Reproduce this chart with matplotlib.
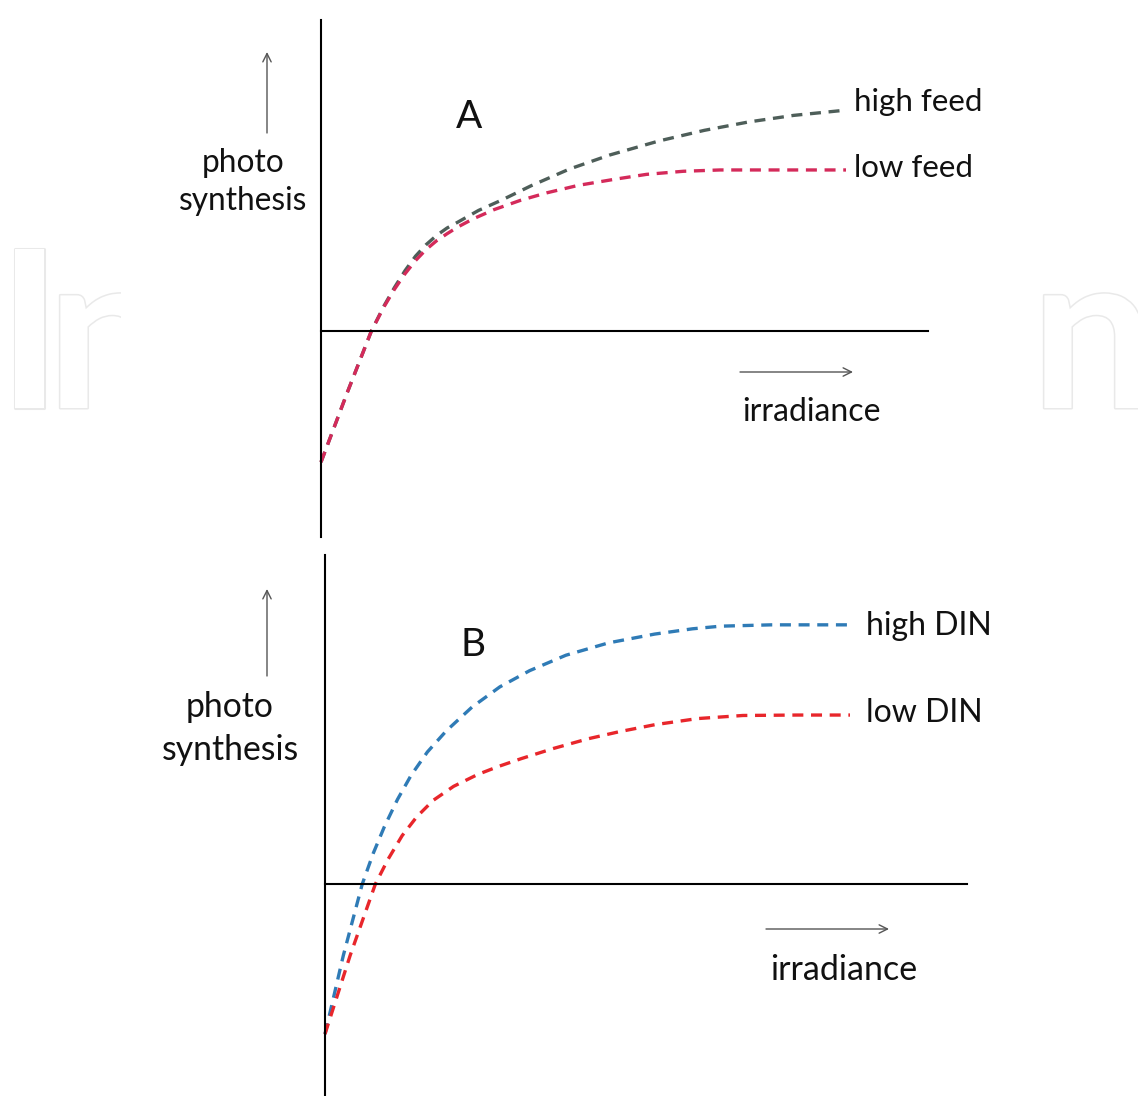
import matplotlib
matplotlib.use('Agg')
import matplotlib.pyplot as plt
import matplotlib.patheffects as pe
from matplotlib.patches import Rectangle, FancyArrowPatch

plt.rcParams['font.family'] = ['Lato', 'DejaVu Sans']

# Panel A: irradiance (arbitrary units) vs photosynthesis (arbitrary units)
feed_x_high = [0, 0.5, 0.96, 1.2, 1.4, 1.6, 1.8, 2.0, 2.2, 2.4, 2.6, 3.0, 3.45, 4.0, 4.73, 5.5, 6.44, 7.3, 8.14, 9.0, 10.0]
feed_y_high = [-2.98, -1.40, 0, 0.57, 0.99, 1.37, 1.70, 1.96, 2.17, 2.34, 2.47, 2.74, 2.98, 3.30, 3.68, 4.00, 4.32, 4.56, 4.75, 4.90, 5.02]
feed_x_low = [0, 0.5, 0.96, 1.2, 1.4, 1.6, 1.8, 2.0, 2.2, 2.4, 2.6, 2.9, 3.3, 3.8, 4.3, 4.9, 5.6, 6.2, 6.9, 7.6, 8.14, 10.0]
feed_y_low = [-2.98, -1.40, 0, 0.55, 0.95, 1.30, 1.60, 1.85, 2.05, 2.21, 2.36, 2.55, 2.76, 2.97, 3.14, 3.31, 3.45, 3.56, 3.63, 3.66, 3.66, 3.66]

# Panel B
din_x_high = [0, 0.35, 0.71, 0.92, 1.13, 1.38, 1.64, 1.95, 2.31, 2.8, 3.33, 3.9, 4.59, 5.4, 6.28, 7.0, 7.54, 8.5, 10.0]
din_y_high = [-3.41, -1.62, 0, 0.70, 1.30, 1.92, 2.47, 3.00, 3.48, 4.02, 4.48, 4.85, 5.20, 5.48, 5.68, 5.80, 5.86, 5.89, 5.89]
din_x_low = [0, 0.48, 0.96, 1.2, 1.47, 1.75, 2.06, 2.45, 2.91, 3.3, 3.74, 4.35, 5.01, 5.6, 6.28, 7.1, 7.96, 9.0, 10.0]
din_y_low = [-3.41, -1.62, 0, 0.56, 1.10, 1.53, 1.90, 2.22, 2.49, 2.67, 2.85, 3.08, 3.30, 3.46, 3.62, 3.76, 3.83, 3.84, 3.84]

W, H = 1138, 1096
XS, YS = 52.5, 44.0   # pixels per data unit

fig = plt.figure(figsize=(W / 100, H / 100), dpi=100)
fig.patch.set_facecolor('white')

# faint watermark letters behind the figure
wm = dict(fontsize=158, fontweight='bold', color='white', va='baseline', ha='left',
          path_effects=[pe.withStroke(linewidth=2.2, foreground='#e9e9e9')], zorder=0)
fig.text(-3 / W, 1 - 408 / H, 'I', **wm)
fig.text(47 / W, 1 - 408 / H, 'n', **wm)
fig.text(1031 / W, 1 - 408 / H, 'n', **wm)
fig.add_artist(Rectangle((121 / W, 0), (1040 - 121) / W, 1, transform=fig.transFigure,
                         facecolor='white', edgecolor='none', zorder=1))


def make_panel(left, right, top, bottom, x0, y0):
    ax = fig.add_axes([left / W, 1 - bottom / H, (right - left) / W, (bottom - top) / H])
    ax.set_zorder(2)
    ax.patch.set_alpha(0)
    ax.set_xlim((left - x0) / XS, (right - x0) / XS)
    ax.set_ylim((y0 - bottom) / YS, (y0 - top) / YS)
    ax.spines['top'].set_visible(False)
    ax.spines['right'].set_visible(False)
    ax.spines['bottom'].set_position(('data', 0))
    for s in ('left', 'bottom'):
        ax.spines[s].set_linewidth(1.5)
        ax.spines[s].set_color('black')
    ax.set_xticks([])
    ax.set_yticks([])
    return ax


def ftext(x, y, s, size, **kw):
    fig.text(x / W, 1 - y / H, s, fontsize=size, color='#111111', zorder=3, **kw)


def farrow(x1, y1, x2, y2):
    fig.add_artist(FancyArrowPatch(
        (x1 / W, 1 - y1 / H), (x2 / W, 1 - y2 / H), transform=fig.transFigure,
        arrowstyle='->,head_length=6,head_width=3', color='#555555', lw=1.0,
        zorder=3, shrinkA=0, shrinkB=0))


dash = (0, (3.3, 2.3))

axA = make_panel(321, 928, 20, 537, 321, 331)
axA.plot(feed_x_high, feed_y_high, color='#4e5e59', lw=2.4, linestyle=dash, clip_on=False)
axA.plot(feed_x_low, feed_y_low, color='#d42a5a', lw=2.4, linestyle=dash, clip_on=False)

axB = make_panel(325, 967, 555, 1096, 325, 884)
axB.plot(din_x_high, din_y_high, color='#2f7bb6', lw=2.4, linestyle=dash, clip_on=False)
axB.plot(din_x_low, din_y_low, color='#e8262b', lw=2.4, linestyle=dash, clip_on=False)

# panel A labels
ftext(469, 128, 'A', 28, ha='center', va='baseline')
ftext(854, 111, 'high feed', 22.5, ha='left', va='baseline')
ftext(854, 177, 'low feed', 22.5, ha='left', va='baseline')
ftext(243, 172, 'photo', 22.8, ha='center', va='baseline')
ftext(243, 210, 'synthesis', 22.8, ha='center', va='baseline')
ftext(811, 421, 'irradiance', 23, ha='center', va='baseline')
farrow(267, 133, 267, 52)
farrow(740, 372, 853, 372)

# panel B labels
ftext(473, 656, 'B', 28, ha='center', va='baseline')
ftext(866, 635, 'high DIN', 23, ha='left', va='baseline')
ftext(866, 722, 'low DIN', 23, ha='left', va='baseline')
ftext(230, 717, 'photo', 24.3, ha='center', va='baseline')
ftext(230, 760, 'synthesis', 24.3, ha='center', va='baseline')
ftext(844, 980, 'irradiance', 24.5, ha='center', va='baseline')
farrow(267, 676, 267, 589)
farrow(766, 929, 889, 929)

fig.savefig('out.png', dpi=100, facecolor='white')
